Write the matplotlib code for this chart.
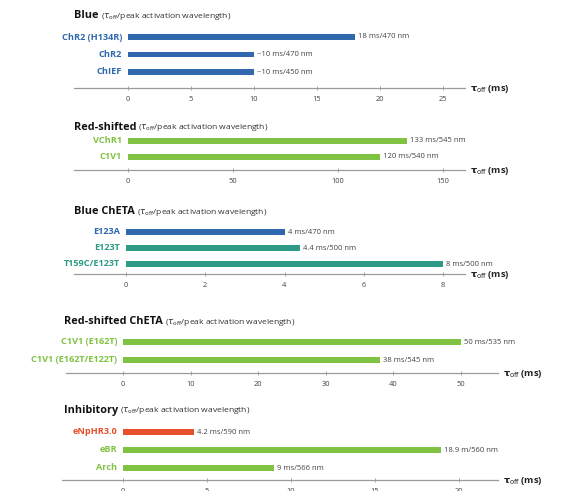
import matplotlib
matplotlib.use("Agg")
import matplotlib.pyplot as plt
from matplotlib.transforms import offset_copy

plt.rcParams['font.family'] = ['Open Sans', 'DejaVu Sans']

BLUE = "#2f68ac"
GREEN = "#80c342"
TEAL = "#2f9a86"
RED = "#e8502b"

# ---- data ----
blue_names = ["ChR2 (H134R)", "ChR2", "ChIEF"]
blue_vals = [18, 10, 10]
blue_text = ["18 ms/470 nm", "~10 ms/470 nm", "~10 ms/450 nm"]
blue_ticks = [0, 5, 10, 15, 20, 25]

red_names = ["VChR1", "C1V1"]
red_vals = [133, 120]
red_text = ["133 ms/545 nm", "120 ms/540 nm"]
red_ticks = [0, 50, 100, 150]

cheta_names = ["E123A", "E123T", "T159C/E123T"]
cheta_vals = [4, 4.4, 8]
cheta_text = ["4 ms/470 nm", "4.4 ms/500 nm", "8 ms/500 nm"]
cheta_ticks = [0, 2, 4, 6, 8]

rcheta_names = ["C1V1 (E162T)", "C1V1 (E162T/E122T)"]
rcheta_vals = [50, 38]
rcheta_text = ["50 ms/535 nm", "38 ms/545 nm"]
rcheta_ticks = [0, 10, 20, 30, 40, 50]

inh_names = ["eNpHR3.0", "eBR", "Arch"]
inh_vals = [4.2, 18.9, 9]
inh_text = ["4.2 ms/590 nm", "18.9 m/560 nm", "9 ms/566 nm"]
inh_ticks = [0, 5, 10, 15, 20]

W, H = 563, 491
fig = plt.figure(figsize=(W / 100, H / 100), dpi=100)

AXIS_GRAY = "#9a9a9a"
TEXT_GRAY = "#444444"


def panel(title, names, vals, texts, colors, ticks,
          axis_y, spacing, gap, top_gap, x_left, x_right, x0, x_end_val, x_end_px,
          title_y, title_x):
    scale = (x_end_px - x0) / x_end_val
    n = len(names)
    h_px = gap + (n - 1) * spacing + top_gap
    ax = fig.add_axes([x_left / W, 1 - axis_y / H, (x_right - x_left) / W, h_px / H])
    pos = list(range(n))
    ax.barh(pos, vals, height=5.2 / spacing, color=colors, zorder=3)
    ax.set_ylim(n - 1 + gap / spacing, -top_gap / spacing)
    ax.set_xlim((x_left - x0) / scale, (x_right - x0) / scale)
    ax.set_yticks([])
    lab_tr = offset_copy(ax.transData, fig=fig, x=-6, y=0, units='dots')
    for p, nm, c in zip(pos, names, colors):
        ax.text(0, p, nm, transform=lab_tr, fontsize=6.6, fontweight='bold',
                color=c, ha='right', va='center')
    ax.set_xticks(ticks)
    ax.set_xticklabels([str(t) for t in ticks], fontsize=5.4, color=TEXT_GRAY)
    ax.tick_params(axis='x', length=3, width=0.6, color=AXIS_GRAY, pad=4, direction='inout')
    for s in ['top', 'right', 'left']:
        ax.spines[s].set_visible(False)
    ax.spines['bottom'].set_color(AXIS_GRAY)
    ax.spines['bottom'].set_linewidth(0.9)
    ax.patch.set_alpha(0)
    val_tr = offset_copy(ax.transData, fig=fig, x=3, y=0, units='dots')
    for p, v, t in zip(pos, vals, texts):
        ax.text(v, p, t, transform=val_tr, fontsize=5.5, color=TEXT_GRAY,
                va='center', ha='left')
    # axis label
    fig.text((x_right + 5) / W, 1 - (axis_y + 1) / H, r"$\mathbf{\tau}_{\mathrm{off}}$ (ms)",
             fontsize=6.8, fontweight='bold', color="#222222", va='center', ha='left')
    # title
    t = fig.text(title_x / W, 1 - title_y / H, title, fontsize=7.8, fontweight='bold',
                 color="#111111", va='center', ha='left')
    fig.canvas.draw()
    bb = t.get_window_extent()
    fig.text((bb.x1 + 2) / W, 1 - (title_y + 0.5) / H,
             r"($\tau_{\mathrm{off}}$/peak activation wavelength)",
             fontsize=6.1, color="#333333", va='center', ha='left')
    return ax


panel("Blue", blue_names, blue_vals, blue_text, [BLUE] * 3, blue_ticks,
      axis_y=88, spacing=17.5, gap=16, top_gap=10, x_left=74, x_right=465,
      x0=128, x_end_val=25, x_end_px=443, title_y=16, title_x=74)

panel("Red-shifted", red_names, red_vals, red_text, [GREEN] * 2, red_ticks,
      axis_y=170, spacing=16, gap=13, top_gap=10, x_left=74, x_right=465,
      x0=128, x_end_val=150, x_end_px=443, title_y=127, title_x=74)

panel("Blue ChETA", cheta_names, cheta_vals, cheta_text, [BLUE, TEAL, TEAL], cheta_ticks,
      axis_y=274, spacing=16, gap=10, top_gap=10, x_left=74, x_right=465,
      x0=126, x_end_val=8, x_end_px=443, title_y=212, title_x=74)

panel("Red-shifted ChETA", rcheta_names, rcheta_vals, rcheta_text, [GREEN] * 2, rcheta_ticks,
      axis_y=373, spacing=18, gap=13, top_gap=10, x_left=66, x_right=498,
      x0=123, x_end_val=50, x_end_px=461, title_y=322, title_x=64)

panel("Inhibitory", inh_names, inh_vals, inh_text, [RED, GREEN, GREEN], inh_ticks,
      axis_y=480, spacing=18, gap=12, top_gap=10, x_left=62, x_right=498,
      x0=123, x_end_val=20, x_end_px=459, title_y=410, title_x=64)

fig.savefig("out.png", dpi=100)
